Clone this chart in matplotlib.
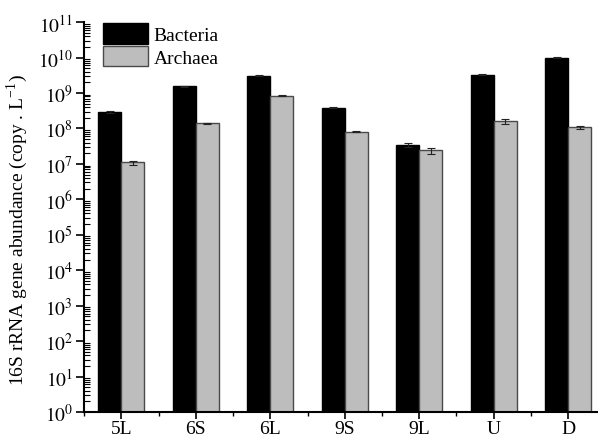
import matplotlib
matplotlib.use("Agg")
import matplotlib.pyplot as plt
import matplotlib.ticker as ticker
from matplotlib.patches import Patch
import numpy as np

plt.rcParams['font.family'] = ['Liberation Serif', 'DejaVu Serif']
plt.rcParams['mathtext.fontset'] = 'stix'

# data
sites = ['5L', '6S', '6L', '9S', '9L', 'U', 'D']
bacteria = [2.95e8, 1.55e9, 3.1e9, 3.9e8, 3.5e7, 3.3e9, 9.9e9]
bacteria_err = [0.15e8, 0.05e9, 0.1e9, 0.1e8, 0.5e7, 0.1e9, 0.3e9]
archaea = [1.1e7, 1.39e8, 8.4e8, 8.1e7, 2.4e7, 1.58e8, 1.07e8]
archaea_err = [0.15e7, 0.04e8, 0.2e8, 0.2e7, 0.5e7, 0.25e8, 0.08e8]

fig = plt.figure(figsize=(5.98, 4.39), dpi=100)
# axis runs past the right edge, like the original
ax = fig.add_axes([0.1405, 0.0592, 0.872, 0.888])

x = np.arange(len(sites))
w = 0.31

ax.bar(x - w / 2, bacteria, w, color='black', edgecolor='black', linewidth=1,
       yerr=bacteria_err, capsize=3, error_kw=dict(elinewidth=0.8, capthick=0.8, ecolor='#222222'))
ax.bar(x + w / 2, archaea, w, color='#bdbdbd', edgecolor='#4a4a4a', linewidth=1,
       yerr=archaea_err, capsize=3, error_kw=dict(elinewidth=0.8, capthick=0.8, ecolor='#222222'))

ax.set_yscale('log')
ax.set_ylim(1, 1e11)
ax.set_xlim(-0.5, 6.5)

ax.yaxis.set_major_locator(ticker.LogLocator(base=10, numticks=20))
ax.yaxis.set_minor_locator(ticker.LogLocator(base=10, subs=np.arange(2, 10), numticks=20))
ax.yaxis.set_minor_formatter(ticker.NullFormatter())
ax.yaxis.set_major_formatter(ticker.FuncFormatter(lambda v, p: r'$10^{%d}$' % round(np.log10(v))))

ax.set_xticks(x)
ax.set_xticklabels(sites)
ax.set_xticks(np.arange(-0.5, 7, 1), minor=True)

ax.tick_params(axis='y', which='major', direction='out', length=6, width=1.2, labelsize=14, pad=2)
ax.tick_params(axis='y', which='minor', direction='in', length=4, width=0.8)
ax.tick_params(axis='x', which='major', direction='out', length=5, width=1.2, labelsize=14, pad=1)
ax.tick_params(axis='x', which='minor', direction='out', length=3, width=1)

for s in ['top', 'right']:
    ax.spines[s].set_visible(False)
for s in ['left', 'bottom']:
    ax.spines[s].set_linewidth(1.5)

ax.set_ylabel(r'16S rRNA gene abundance (copy . L$^{\mathregular{-1}}$)', fontsize=14)
ax.yaxis.set_label_coords(-0.103, 0.47)

handles = [Patch(facecolor='black', edgecolor='black', linewidth=1),
           Patch(facecolor='#bdbdbd', edgecolor='#4a4a4a', linewidth=1)]
ax.legend(handles, ['Bacteria', 'Archaea'], loc='upper left', bbox_to_anchor=(0.036, 0.998),
          frameon=False, fontsize=14, handlelength=2.3, handleheight=1.25,
          handletextpad=0.3, labelspacing=0.1, borderaxespad=0.0, borderpad=0.0)

fig.savefig('out.png', dpi=100)
